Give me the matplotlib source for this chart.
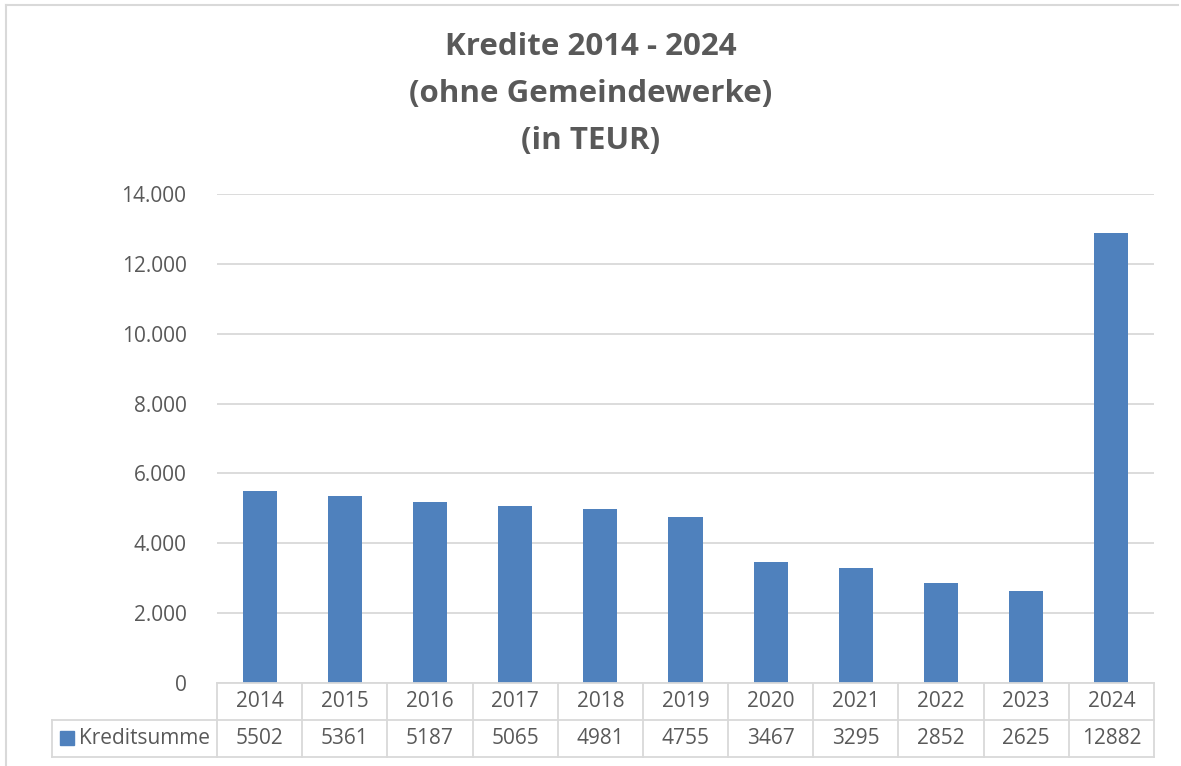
import matplotlib.pyplot as plt
from matplotlib.lines import Line2D
from matplotlib.patches import Rectangle
import matplotlib.transforms as mtransforms

# data
years = ['2014', '2015', '2016', '2017', '2018', '2019', '2020', '2021', '2022', '2023', '2024']
kredite = [5502, 5361, 5187, 5065, 4981, 4755, 3467, 3295, 2852, 2625, 12882]
series_name = 'Kreditsumme'
title = 'Kredite 2014 - 2024\n(ohne Gemeindewerke)\n(in TEUR)'
yticks = [0, 2000, 4000, 6000, 8000, 10000, 12000, 14000]

plt.rcParams['font.family'] = ['Open Sans', 'DejaVu Sans']
txt = '#595959'
grid = '#d9d9d9'
blue = '#4f81bd'

W, H = 1181, 766
fig = plt.figure(figsize=(W / 100, H / 100), dpi=100)

# axes in pixel coords: left 217, right 1154, top 194, bottom 683
L, R, T, B = 217, 1154, 194, 683
ax = fig.add_axes([L / W, 1 - B / H, (R - L) / W, (B - T) / H])

x = list(range(len(years)))
ax.bar(x, kredite, width=0.4, color=blue, zorder=3)
ax.set_xlim(-0.5, len(years) - 0.5)
ax.set_ylim(0, 14000)
ax.set_yticks(yticks)
ax.set_yticklabels(['{:,}'.format(v).replace(',', '.') for v in yticks])
ax.tick_params(axis='y', length=0, pad=22, labelsize=15, labelcolor=txt)
ax.set_xticks([])
ax.grid(axis='y', color=grid, linewidth=1.3, zorder=0)
for s in ax.spines.values():
    s.set_visible(False)

# title
fig.text(0.5, 1 - 32 / H, title, ha='center', va='top', fontsize=22.5,
         fontweight='bold', color=txt, linespacing=1.74)

# data table below the axes
trans = mtransforms.blended_transform_factory(ax.transData, fig.transFigure)
row1_top = 1 - 683 / H
row_mid = 1 - 720 / H
row_bot = 1 - 757 / H
lw = 1.3

def fline(x0, x1, y0, y1):
    fig.add_artist(Line2D([x0, x1], [y0, y1], transform=fig.transFigure,
                          color=grid, linewidth=lw))

tl = 52 / W
fline(L / W, R / W, row1_top, row1_top)
fline(tl, R / W, row_mid, row_mid)
fline(tl, R / W, row_bot, row_bot)
fline(tl, tl, row_mid, row_bot)
fline(L / W, L / W, row_bot, row1_top)
for i in range(len(years)):
    xr = (L + (i + 1) * (R - L) / len(years)) / W
    fline(xr, xr, row_bot, row1_top)
    fig.text(i, (row1_top + row_mid) / 2, years[i], transform=trans,
             ha='center', va='center', fontsize=15, color=txt)
    fig.text(i, (row_mid + row_bot) / 2, str(kredite[i]), transform=trans,
             ha='center', va='center', fontsize=15, color=txt)

# legend key in table
fig.add_artist(Rectangle((60 / W, 1 - 745 / H), 14 / W, 14 / H,
                         transform=fig.transFigure, color=blue))
fig.text(79 / W, (row_mid + row_bot) / 2, series_name, ha='left', va='center',
         fontsize=15, color=txt)

# chart border
fig.add_artist(Line2D([6 / W, 6 / W], [0, 1 - 5 / H], transform=fig.transFigure,
                      color=grid, linewidth=1.5))
fig.add_artist(Line2D([6 / W, 1178 / W], [1 - 5 / H, 1 - 5 / H],
                      transform=fig.transFigure, color=grid, linewidth=1.5))

fig.savefig('out.png', dpi=100)
